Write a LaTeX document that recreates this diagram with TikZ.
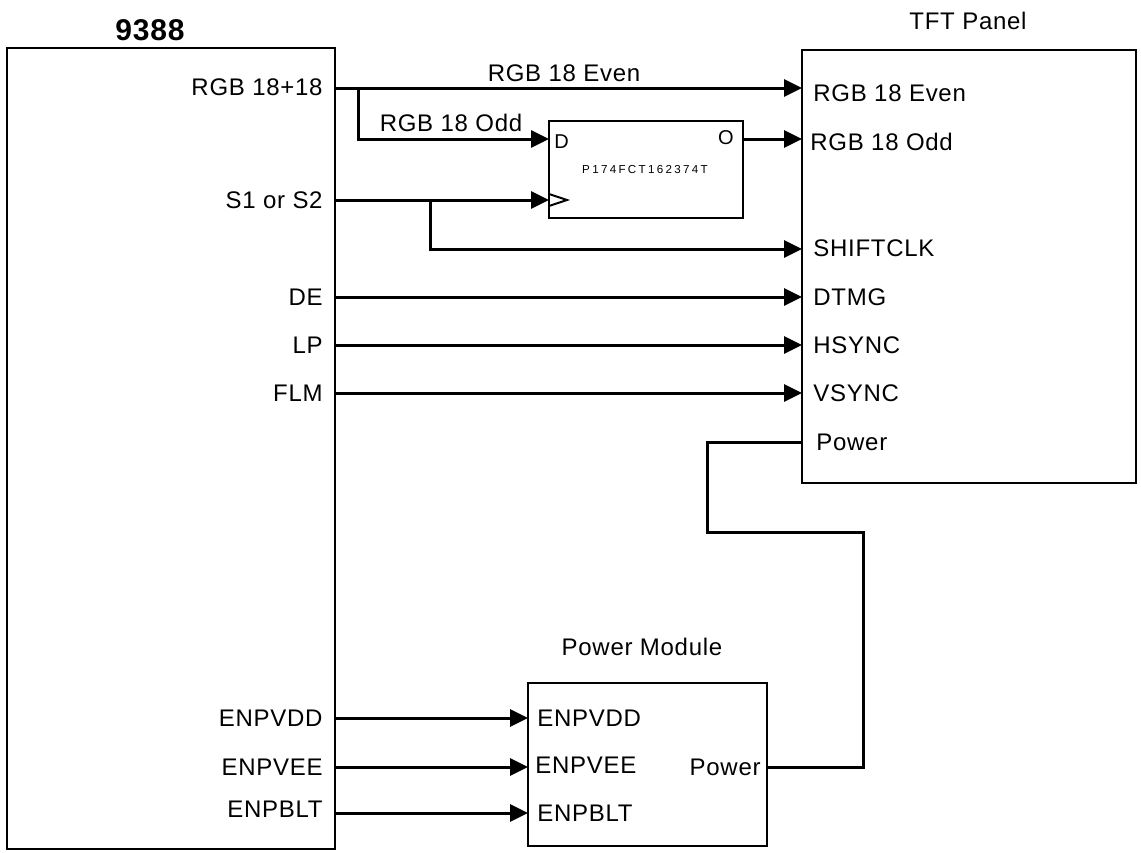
\documentclass[tikz,border=0pt]{standalone}
\usepackage{fontspec}
\setmainfont[LetterSpace=3]{Liberation Sans}
\newfontfamily\chipfont[LetterSpace=20]{Liberation Sans}
\usetikzlibrary{arrows.meta}
\begin{document}
\begin{tikzpicture}[x=0.5pt,y=-0.5pt,
  box/.style={draw, line width=1pt, inner sep=0pt, outer sep=0pt, anchor=north west},
  sig/.style={line width=1.5pt, -{Triangle[length=9pt,width=8.5pt]}},
  wire/.style={line width=1.5pt},
  lbl/.style={font=\fontsize{12}{14}\selectfont, inner sep=0pt},
  lblr/.style={lbl, anchor=east},
  lbll/.style={lbl, anchor=west},
  title/.style={font=\fontsize{12}{14}\selectfont, inner sep=0pt}]
\useasboundingbox (0,0) rectangle (1141,852);

% boxes
\node[box, minimum width=164pt, minimum height=400.5pt] (chip) at (7,48) {};
\node[box, minimum width=167pt, minimum height=216.5pt] (tft) at (802,50) {};
\node[box, minimum width=97pt, minimum height=48.5pt] (ff) at (549,121) {};
\node[box, minimum width=119.5pt, minimum height=81.5pt] (pm) at (528,683) {};

% titles
\node[inner sep=0pt, font=\fontsize{15}{17}\selectfont\bfseries] (t9388) at (150,30) {9388};
\node[title] (ttft) at (968,21) {TFT Panel};
\node[title] (tpm) at (642,647) {Power Module};

% chip labels
\node[lblr] (lrgb) at (323,87) {RGB 18+18};
\node[lblr] (ls) at (323,200) {S1 or S2};
\node[lblr] (lde) at (323,297) {DE};
\node[lblr] (llp) at (323,345) {LP};
\node[lblr] (lflm) at (323,393) {FLM};
\node[lblr] (lvdd) at (323,718) {ENPVDD};
\node[lblr] (lvee) at (323,767) {ENPVEE};
\node[lblr] (lblt) at (323,809) {ENPBLT};

% TFT labels
\node[lbll] (teven) at (813,93) {RGB 18 Even};
\node[lbll] (todd) at (810,142) {RGB 18 Odd};
\node[lbll] (tshift) at (813,248) {SHIFTCLK};
\node[lbll] (tdtmg) at (813,297) {DTMG};
\node[lbll] (thsync) at (813,345) {HSYNC};
\node[lbll] (tvsync) at (813,393) {VSYNC};
\node[lbll] (tpower) at (816,442) {Power};

% power module labels
\node[lbll] (pvdd) at (537,718) {ENPVDD};
\node[lbll] (pvee) at (535,765) {ENPVEE};
\node[lbll] (pblt) at (537,813) {ENPBLT};
\node[lblr] (ppow) at (761,767) {Power};

% wire labels
\node[lbl] (weven) at (564,73) {RGB 18 Even};
\node[lbl] (wodd) at (451,123) {RGB 18 Odd};

% flip-flop labels
\node[inner sep=0pt, font=\chipfont\fontsize{5.8}{7}\selectfont] (fname) at (645,170) {P174FCT162374T};
\node[inner sep=0pt, anchor=west, font=\fontsize{10}{12}\selectfont] (fdl) at (554,142) {D};
\node[inner sep=0pt, font=\fontsize{10}{12}\selectfont] (fol) at (726,138) {O};
\draw[line width=1pt] (549,194) -- (567,200) -- (549,206);

% pin coordinates
\coordinate (cRGB) at (335,88);
\coordinate (bRGB) at (358,88);
\coordinate (tEven) at (802,88);
\coordinate (fD) at (549,139);
\coordinate (fO) at (743,139);
\coordinate (tOdd) at (802,139);
\coordinate (cS) at (335,200);
\coordinate (bS) at (430,200);
\coordinate (fC) at (549,200);
\coordinate (tSh) at (802,249);
\coordinate (cDE) at (335,297);
\coordinate (tDE) at (802,297);
\coordinate (cLP) at (335,345);
\coordinate (tLP) at (802,345);
\coordinate (cFLM) at (335,393);
\coordinate (tFLM) at (802,393);
\coordinate (cVDD) at (335,718);
\coordinate (pVDD) at (528,718);
\coordinate (cVEE) at (335,767);
\coordinate (pVEE) at (528,767);
\coordinate (cBLT) at (335,813);
\coordinate (pBLT) at (528,813);
\coordinate (tPow) at (802,442);
\coordinate (pw1) at (707,442);
\coordinate (pw2) at (707,532);
\coordinate (pw3) at (863,532);
\coordinate (pw4) at (863,767);
\coordinate (pPow) at (767,767);

% connectors
\draw[sig] (cRGB) -- (tEven);
\draw[sig] (bRGB) |- (fD);
\draw[sig] (fO) -- (tOdd);
\draw[sig] (cS) -- (fC);
\draw[sig] (bS) |- (tSh);
\draw[sig] (cDE) -- (tDE);
\draw[sig] (cLP) -- (tLP);
\draw[sig] (cFLM) -- (tFLM);
\draw[sig] (cVDD) -- (pVDD);
\draw[sig] (cVEE) -- (pVEE);
\draw[sig] (cBLT) -- (pBLT);
\draw[wire] (tPow) -- (pw1) -- (pw2) -- (pw3) -- (pw4) -- (pPow);
\end{tikzpicture}
\end{document}
